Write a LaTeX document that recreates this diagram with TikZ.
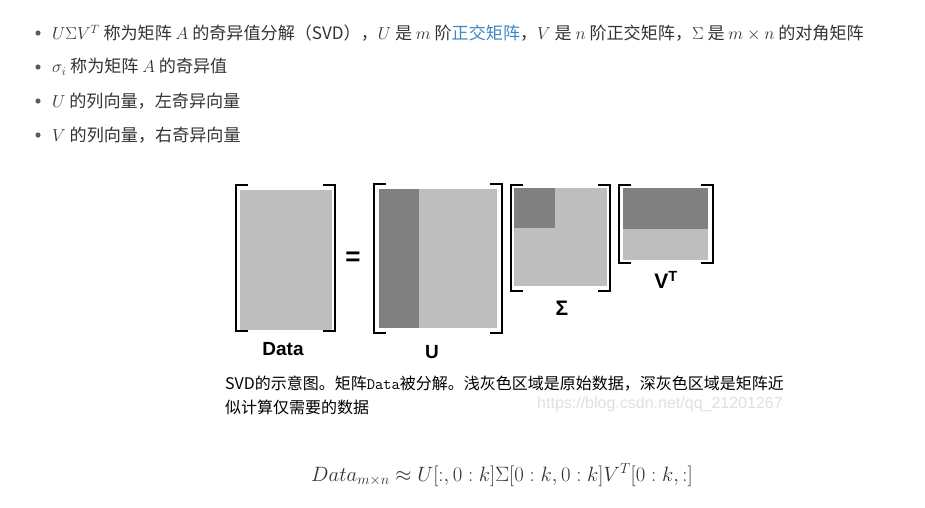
\documentclass[tikz,border=0pt]{standalone}
\usepackage{fontspec}
\newfontfamily\cjk{Noto Sans CJK SC}
\newfontfamily\arial{Liberation Sans}
\definecolor{txt}{HTML}{333333}
\definecolor{lnk}{HTML}{3F88C5}
\definecolor{lg}{HTML}{BEBEBE}
\definecolor{dg}{HTML}{808080}
\begin{document}
\begin{tikzpicture}[x=1pt,y=-1pt,
  br/.style={line width=2.2pt,black},
  lab/.style={font=\arial\bfseries\fontsize{19}{19}\selectfont,text=black},
  bul/.style={anchor=west,font=\cjk\fontsize{17.1}{18}\selectfont,text=txt,inner sep=0},
  captext/.style={anchor=west,font=\cjk\fontsize{16}{18}\selectfont,text=black,inner sep=0}]
\useasboundingbox[fill=white] (0,0) rectangle (925,507);
% bullets
\foreach \y in {33,67,101,135} \fill[txt!80] (38,\y) circle (2.6);
\node[bul] (b1) at (52,33) {$U\Sigma V^T$ 称为矩阵 $A$ 的奇异值分解（SVD），$U$ 是 $m$ 阶\textcolor{lnk}{正交矩阵}，$V$ 是 $n$ 阶正交矩阵，$\Sigma$ 是 $m\times n$ 的对角矩阵};
\node[bul] (b2) at (52,67) {$\sigma_i$ 称为矩阵 $A$ 的奇异值};
\node[bul] (b3) at (52,101) {$U$ 的列向量，左奇异向量};
\node[bul] (b4) at (52,135) {$V$ 的列向量，右奇异向量};
% Data
\fill[lg] (240,190) rectangle (332,330);
\draw[br] (248,185) -- (236,185) -- (236,331) -- (248,331);
\draw[br] (323,185) -- (335,185) -- (335,331) -- (323,331);
\node[lab] (ld) at (283,349) {Data};
\node[lab,font=\arial\bfseries\fontsize{26}{26}\selectfont] (eq) at (353,259) {=};
% U
\fill[lg] (379,189) rectangle (497,328);
\fill[dg] (379,189) rectangle (419,328);
\draw[br] (386,184) -- (374,184) -- (374,333) -- (386,333);
\draw[br] (490,184) -- (502,184) -- (502,333) -- (490,333);
\node[lab] (lu) at (432,352) {U};
% Sigma
\fill[lg] (514,188) rectangle (607,286);
\fill[dg] (514,188) rectangle (555,228);
\draw[br] (523,185) -- (511,185) -- (511,291) -- (523,291);
\draw[br] (598,185) -- (610,185) -- (610,291) -- (598,291);
\node[lab,font=\arial\bfseries\fontsize{21}{21}\selectfont] (ls) at (562,308) {Σ};
% V^T
\fill[lg] (623,188) rectangle (708,260);
\fill[dg] (623,188) rectangle (708,229);
\draw[br] (631,185) -- (619,185) -- (619,263) -- (631,263);
\draw[br] (701,185) -- (713,185) -- (713,263) -- (701,263);
\node[lab,font=\arial\bfseries\fontsize{21}{21}\selectfont] (lv) at (666,280) {V\textsuperscript{T}};
% caption
\node[captext] (c1) at (225,384) {SVD的示意图。矩阵\texttt{Data}被分解。浅灰色区域是原始数据，深灰色区域是矩阵近};
\node[captext] (c2) at (225,407) {似计算仅需要的数据};
\node[anchor=west,inner sep=0,text=black!12,font=\arial\fontsize{16}{16}\selectfont] (wm) at (537,404) {https://blog.csdn.net/qq\_21201267};
% formula
\node[text=txt,font=\fontsize{20.4}{21}\selectfont] (f) at (502,475) {$Data_{m\times n}\approx U[:,0:k]\Sigma[0:k,0:k]V^T[0:k,:]$};
\end{tikzpicture}
\end{document}
